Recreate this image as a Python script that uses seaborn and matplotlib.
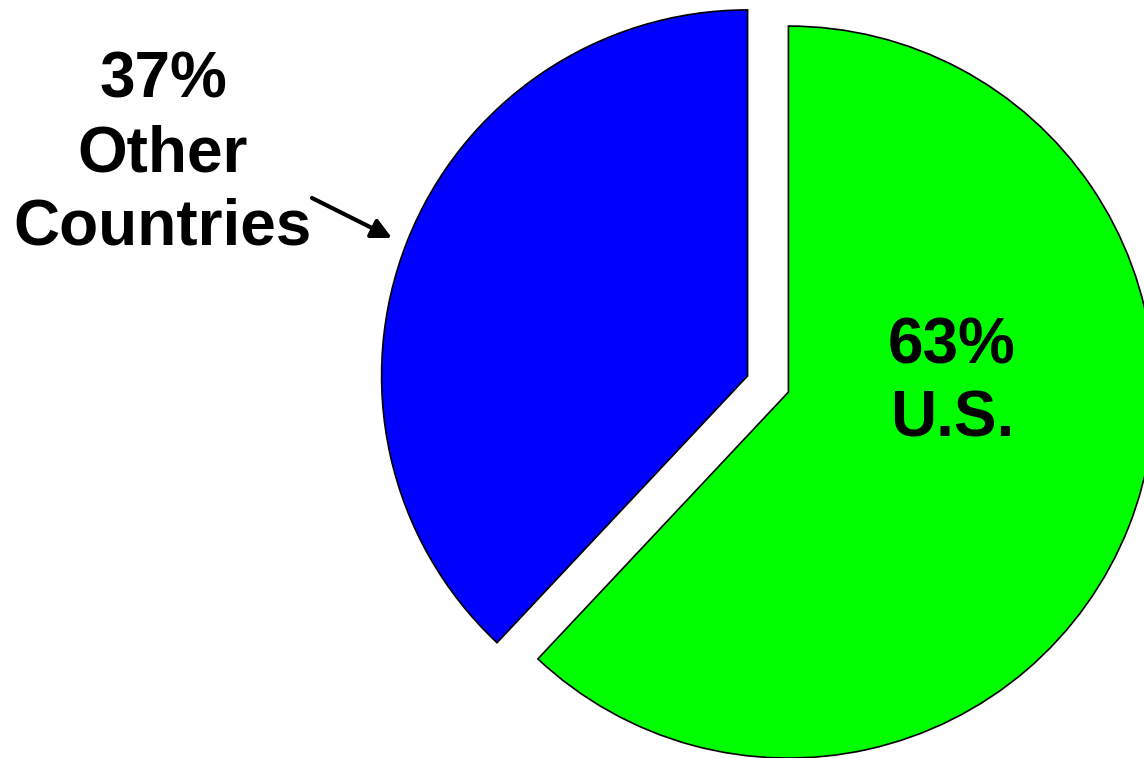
"""Share of total: U.S. vs other countries, exploded pie."""
import matplotlib
matplotlib.use("Agg")
import matplotlib.pyplot as plt
import seaborn as sns

# data (wedges as drawn in the source; labels as printed there)
labels = ["U.S.", "Other\nCountries"]
shares = [62, 38]
share_labels = ["63%", "37%"]
colors = ["#00FF00", "#0000FF"]
explode = [0.06, 0.06]

sns.set_theme(style="white")
plt.rcParams["font.family"] = ["Liberation Sans", "DejaVu Sans"]
plt.rcParams["font.weight"] = "bold"

W, H, DPI = 1144, 758, 100
R = 366           # pie radius in pixels
CX, CY = 768, 384 # pie centre, pixels from top-left

fig = plt.figure(figsize=(W / DPI, H / DPI), dpi=DPI)
ax = fig.add_axes([0, 0, 1, 1])

wedges, _ = ax.pie(shares, colors=colors, explode=explode, startangle=90,
                   counterclock=False,
                   wedgeprops=dict(edgecolor="black", linewidth=1.2))
ax.set_aspect("auto")
ax.set_xlim(-CX / R, (W - CX) / R)
ax.set_ylim(-(H - CY) / R, CY / R)
ax.axis("off")

# labels
ax.text(952 / W, 1 - 383 / H, f"{share_labels[0]}\n{labels[0]}",
        transform=fig.transFigure, ha="center", va="center", color="black",
        fontsize=46, fontweight="bold", linespacing=1.26)
ax.text(163 / W, 1 - 154 / H, f"{share_labels[1]}\n{labels[1]}",
        transform=fig.transFigure, ha="center", va="center", color="black",
        fontsize=46, fontweight="bold", linespacing=1.28)
ax.annotate("", xy=(392 / W, 1 - 238 / H), xytext=(312 / W, 1 - 198 / H),
            xycoords="figure fraction", textcoords="figure fraction",
            arrowprops=dict(arrowstyle="-|>", color="black", lw=3,
                            mutation_scale=30, shrinkA=0, shrinkB=0))

fig.savefig("out.png", dpi=DPI)
